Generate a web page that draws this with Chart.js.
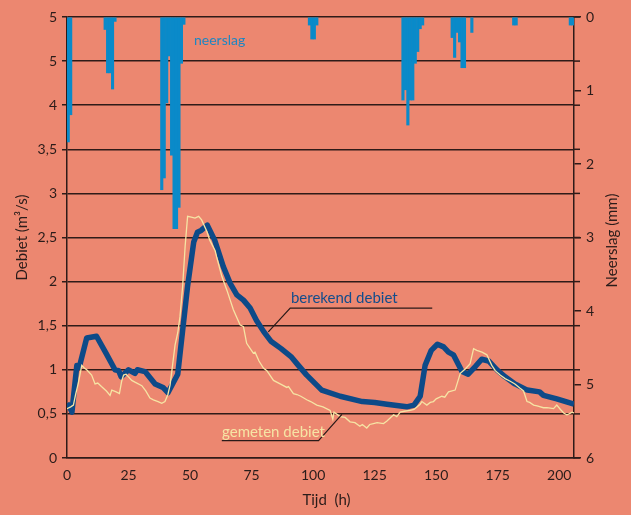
<!DOCTYPE html>
<html>
<head>
<meta charset="utf-8">
<script src="https://cdn.jsdelivr.net/npm/chart.js@4.4.1/dist/chart.umd.min.js"></script>
<style>
  html, body { margin: 0; padding: 0; background: #ec8770; }
  #wrap { width: 631px; height: 515px; }
</style>
</head>
<body>
<div id="wrap"><canvas id="chart" width="631" height="515"></canvas></div>
<script>
// neerslag per uur (mm), uur = begin van het interval
const rainHours = [0, 1, 15, 16, 17, 18, 19, 38, 39, 40, 41, 42, 43, 44, 45, 46, 47,
  98, 99, 100, 101, 136, 137, 138, 139, 140, 141, 142, 143, 144,
  156, 157, 158, 159, 160, 161, 164, 181, 182, 204, 205];
const rainMm = [1.70, 1.33, 0.17, 0.76, 0.76, 0.98, 0.06, 2.35, 2.19, 1.17, 0.53, 1.88, 2.88, 2.88, 2.59, 0.63, 0.10,
  0.11, 0.30, 0.30, 0.11, 1.13, 0.99, 1.47, 1.13, 1.13, 0.63, 0.47, 0.16, 0.11,
  0.28, 0.55, 0.21, 0.34, 0.69, 0.69, 0.21, 0.11, 0.11, 0.11, 0.11];

// berekend debiet (m3/s)
const calcHours = [0, 1, 2, 4, 5, 8, 12, 16, 19.5, 21, 22, 25, 27.6, 28.6, 31.7, 35.8, 39, 41, 45, 49,
  51.5, 53, 54.5, 57, 60, 63.5, 66.3, 69, 71.7, 74.4, 77, 80, 83, 87, 91, 94, 97.4, 103.5, 111, 120,
  125, 130, 138, 141, 143.5, 145.5, 148, 150.5, 153, 155, 157, 160.5, 163, 166, 168.5, 171.3, 174.7, 178, 182, 187,
  192, 193.6, 199, 206];
const calcFlow = [0.62, 0.58, 0.52, 1.05, 1.03, 1.36, 1.38, 1.18, 1.0, 0.99, 0.92, 1.0, 0.96, 1.0, 0.98, 0.84, 0.80, 0.74, 0.95, 1.95,
  2.45, 2.56, 2.58, 2.64, 2.47, 2.17, 1.98, 1.85, 1.79, 1.70, 1.56, 1.43, 1.32, 1.24, 1.15, 1.05, 0.94, 0.77, 0.70, 0.64,
  0.63, 0.61, 0.58, 0.60, 0.70, 1.05, 1.22, 1.29, 1.26, 1.20, 1.17, 0.98, 0.95, 1.04, 1.12, 1.10, 1.0, 0.92, 0.84, 0.77,
  0.75, 0.71, 0.67, 0.61];

// gemeten debiet (m3/s)
const measHours = [0, 1.5, 2.6, 3.5, 4.6, 6, 7, 8, 10, 11.4, 12.5, 14, 16, 17.5, 18.2, 20, 21.3, 22.2, 23, 24,
  25, 26.3, 27.6, 30.4, 32, 33.7, 35.1, 37, 38.5, 39.8, 41, 41.9, 43.9, 45, 45.9, 47, 48, 49, 50.5, 52,
  53.5, 54.7, 56.8, 58, 60.2, 60.8, 62.9, 65, 67.6, 70.3, 71.7, 73, 75.7, 76.4, 78, 79.8, 81.2, 83.9, 86.6, 89.3,
  90, 92, 93.4, 95, 97.4, 99, 101.5, 104, 106.9, 108, 108.5, 111, 113, 115, 117, 119, 120, 121.8, 123, 124.5,
  126, 128.6, 130, 132.7, 134, 135.4, 137, 139.4, 141, 143.5, 144.2, 146.2, 147.6, 148.9, 150, 152.3, 153.5, 155, 157.7, 159.8,
  161.8, 163.8, 165.2, 166.5, 168.6, 170.6, 172.6, 174, 176, 178, 180.1, 182, 184.1, 185.5, 186.9, 188, 189.6, 191, 193.6, 195,
  197.7, 199, 200.5, 201.8, 203.1, 204, 205.2, 206];
const measFlow = [0.56, 0.58, 0.60, 0.72, 0.85, 1.05, 1.02, 1.0, 0.94, 0.84, 0.85, 0.81, 0.76, 0.71, 0.77, 0.75, 0.73, 0.87, 0.94, 0.95,
  0.92, 0.88, 0.86, 0.82, 0.76, 0.68, 0.66, 0.64, 0.62, 0.64, 0.72, 0.83, 1.28, 1.42, 1.6, 1.95, 2.4, 2.74, 2.73, 2.72,
  2.74, 2.70, 2.57, 2.47, 2.35, 2.28, 2.06, 1.9, 1.68, 1.51, 1.49, 1.30, 1.19, 1.20, 1.1, 1.02, 0.99, 0.88, 0.84, 0.80,
  0.81, 0.73, 0.72, 0.70, 0.66, 0.64, 0.60, 0.58, 0.54, 0.44, 0.52, 0.47, 0.46, 0.41, 0.40, 0.36, 0.38, 0.34, 0.38, 0.39,
  0.40, 0.39, 0.42, 0.49, 0.47, 0.52, 0.53, 0.54, 0.55, 0.61, 0.64, 0.60, 0.63, 0.64, 0.67, 0.70, 0.69, 0.75, 0.77, 0.96,
  1.01, 1.07, 1.24, 1.22, 1.20, 1.17, 1.05, 0.99, 0.94, 0.90, 0.87, 0.84, 0.79, 0.76, 0.64, 0.63, 0.60, 0.59, 0.57, 0.57,
  0.56, 0.60, 0.55, 0.51, 0.49, 0.50, 0.52, 0.51];

// as-labels
const xTicks = [0, 25, 50, 75, 100, 125, 150, 175, 200];
const leftTicks = [0, 0.5, 1, 1.5, 2, 2.5, 3, 3.5, 4, 4.5, 5];
const leftTickLabels = ["0", "0,5", "1", "1,5", "2", "2,5", "3", "3,5", "4", "5", "5"];
const rightTicks = [0, 1, 2, 3, 4, 5, 6];
const rightTickLabels = ["0", "1", "2", "3", "4", "5", "6"];

const gridColor = "#2e1b18";
const textColor = "#2a1c1a";
const fontFamily = "Lato, 'Open Sans', sans-serif";
const tickFont = { family: fontFamily, size: 14 };

// tekstjes in grafiek, in data-eenheden (uur, debiet)
const notes = {
  neerslag: { x: 51.6, y: 4.73 },
  berekend: { x: 91, y: 1.81, line: [[148.4, 1.70], [90.7, 1.70], [81.8, 1.43]] },
  gemeten: { x: 63, y: 0.29, line: [[62.9, 0.196], [102.2, 0.196], [111.7, 0.495]] }
};

const textPlugin = {
  id: "texts",
  afterDraw(chart) {
    const ctx = chart.ctx;
    const xs = chart.scales.x;
    const ys = chart.scales.y;
    const area = chart.chartArea;
    const px = (x, y) => [xs.getPixelForValue(x), ys.getPixelForValue(y)];

    ctx.save();
    // gridlijnen iets voorbij de rechteras
    ctx.strokeStyle = gridColor;
    ctx.lineWidth = 1.5;
    leftTicks.forEach(function (v) {
      const y = ys.getPixelForValue(v);
      ctx.beginPath();
      ctx.moveTo(area.right, y);
      ctx.lineTo(area.right + 6, y);
      ctx.stroke();
    });

    // verwijslijnen
    ctx.lineWidth = 1.2;
    ctx.strokeStyle = "#2a1a18";
    [notes.berekend.line, notes.gemeten.line].forEach(function (pts) {
      ctx.beginPath();
      pts.forEach(function (p, i) {
        const q = px(p[0], p[1]);
        if (i === 0) ctx.moveTo(q[0], q[1]); else ctx.lineTo(q[0], q[1]);
      });
      ctx.stroke();
    });

    ctx.textBaseline = "middle";
    ctx.textAlign = "left";
    ctx.font = "14px " + fontFamily;
    let p = px(notes.neerslag.x, notes.neerslag.y);
    ctx.fillStyle = "#1f86c2";
    ctx.fillText("neerslag", p[0], p[1]);

    ctx.font = "15px " + fontFamily;
    p = px(notes.berekend.x, notes.berekend.y);
    ctx.fillStyle = "#134d8c";
    ctx.fillText("berekend debiet", p[0], p[1]);

    p = px(notes.gemeten.x, notes.gemeten.y);
    ctx.fillStyle = "#f6e4a4";
    ctx.fillText("gemeten debiet", p[0], p[1]);

    // as-titels
    ctx.fillStyle = textColor;
    ctx.font = "15px " + fontFamily;
    ctx.textAlign = "center";
    const midY = (area.top + area.bottom) / 2;
    ctx.save();
    ctx.translate(22, midY);
    ctx.rotate(-Math.PI / 2);
    ctx.fillText("Debiet (m³/s)", 0, 0);
    ctx.restore();
    ctx.save();
    ctx.translate(612, midY + 3);
    ctx.rotate(-Math.PI / 2);
    ctx.fillText("Neerslag (mm)", 0, 0);
    ctx.restore();
    ctx.fillText("Tijd  (h)", (area.left + area.right) / 2 + 6, 500);
    ctx.restore();
  }
};

const ctx = document.getElementById("chart").getContext("2d");
new Chart(ctx, {
  type: "line",
  data: {
    datasets: [
      {
        type: "line",
        label: "gemeten debiet",
        data: measHours.map((h, i) => ({ x: h, y: measFlow[i] })),
        borderColor: "#f6e4a4",
        borderWidth: 1.3,
        pointRadius: 0,
        tension: 0,
        yAxisID: "y",
        order: 1
      },
      {
        type: "line",
        label: "berekend debiet",
        data: calcHours.map((h, i) => ({ x: h, y: calcFlow[i] })),
        borderColor: "#0d4a88",
        borderWidth: 5.5,
        borderJoinStyle: "round",
        pointRadius: 0,
        tension: 0,
        yAxisID: "y",
        order: 2
      },
      {
        type: "bar",
        label: "neerslag",
        data: rainHours.map((h, i) => ({ x: h + 0.5, y: rainMm[i] })),
        backgroundColor: "#0a8ac9",
        borderWidth: 0,
        barPercentage: 1,
        categoryPercentage: 1,
        yAxisID: "yR",
        order: 3
      }
    ]
  },
  options: {
    responsive: false,
    animation: false,
    layout: { padding: { top: 17 } },
    plugins: { legend: { display: false }, tooltip: { enabled: false } },
    scales: {
      x: {
        type: "linear",
        min: 0,
        max: 206,
        offset: false,
        afterBuildTicks: function (s) { s.ticks = xTicks.map(v => ({ value: v })); },
        grid: { display: false, drawTicks: false },
        border: { display: true, color: gridColor, width: 1.5 },
        ticks: { padding: 9, color: textColor, font: tickFont, maxRotation: 0 },
        afterFit: function (s) { s.height = 57; }
      },
      y: {
        position: "left",
        min: 0,
        max: 5,
        afterBuildTicks: function (s) { s.ticks = leftTicks.map(v => ({ value: v })); },
        grid: { color: gridColor, lineWidth: 1.5, tickLength: 5 },
        border: { display: true, color: gridColor, width: 1.5 },
        ticks: {
          padding: 5, color: textColor, font: tickFont,
          callback: function (v, i) { return leftTickLabels[i]; }
        },
        afterFit: function (s) { s.width = 67; }
      },
      yR: {
        position: "right",
        min: 0,
        max: 6,
        reverse: true,
        afterBuildTicks: function (s) { s.ticks = rightTicks.map(v => ({ value: v })); },
        grid: { drawOnChartArea: false, color: gridColor, lineWidth: 1.5, tickLength: 7 },
        border: { display: true, color: gridColor, width: 1.5 },
        ticks: {
          padding: 5, color: textColor, font: tickFont,
          callback: function (v, i) { return rightTickLabels[i]; }
        },
        afterFit: function (s) { s.width = 57; }
      }
    }
  },
  plugins: [textPlugin]
});
</script>
</body>
</html>
